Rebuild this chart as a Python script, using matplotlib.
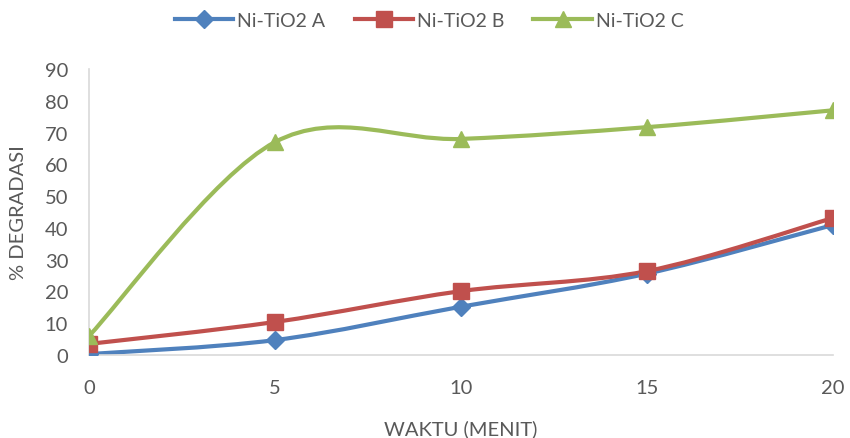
import numpy as np
import matplotlib.pyplot as plt
from matplotlib.path import Path
from matplotlib.patches import PathPatch

plt.rcParams['font.family'] = ['Lato', 'DejaVu Sans']

waktu = [0, 5, 10, 15, 20]
ni_a = [0.3, 4.7, 15.2, 25.6, 40.9]
ni_b = [3.5, 10.4, 20.1, 26.4, 43.1]
ni_c = [6.0, 67.0, 68.0, 71.7, 77.0]
labels = ['Ni-TiO2 A', 'Ni-TiO2 B', 'Ni-TiO2 C']
colors = ['#4F81BD', '#C0504D', '#9BBB59']
markers = ['D', 's', '^']
msizes = [9, 11, 12]


def smooth_path(x, y):
    # cubic bezier through the points, excel-style smoothing
    p = np.column_stack([x, y]).astype(float)
    p = np.vstack([p[0], p, p[-1]])
    verts = [tuple(p[1])]
    codes = [Path.MOVETO]
    for i in range(1, len(p) - 2):
        c1 = p[i] + (p[i + 1] - p[i - 1]) / 6
        c2 = p[i + 1] - (p[i + 2] - p[i]) / 6
        verts += [tuple(c1), tuple(c2), tuple(p[i + 1])]
        codes += [Path.CURVE4] * 3
    return Path(verts, codes)


fig = plt.figure(figsize=(8.5, 4.39), dpi=100)
ax = fig.add_axes([0.1047, 0.189, 0.875, 0.6515])

for ys, lab, col, mk, ms in zip([ni_a, ni_b, ni_c], labels, colors, markers, msizes):
    ax.add_patch(PathPatch(smooth_path(waktu, ys), fill=False, edgecolor=col,
                           lw=3, capstyle='round', zorder=2))
    ax.plot(waktu, ys, linestyle='none', marker=mk, markersize=ms, color=col, zorder=3)
    ax.plot([], [], color=col, lw=3, marker=mk, markersize=ms, label=lab)

ax.set_xlim(0, 20)
ax.set_ylim(0, 90)
ax.set_xticks(waktu)
ax.set_yticks(range(0, 91, 10))
ax.tick_params(length=0, labelsize=14.5, labelcolor='#595959')
ax.tick_params(axis='x', pad=17)
ax.tick_params(axis='y', pad=15)
for s in ['top', 'right']:
    ax.spines[s].set_visible(False)
for s in ['left', 'bottom']:
    ax.spines[s].set_color('#D9D9D9')
    ax.spines[s].set_linewidth(1.2)

ax.set_xlabel('WAKTU (MENIT)', fontsize=14.5, color='#595959', labelpad=17)
ax.set_ylabel('% DEGRADASI', fontsize=14.5, color='#595959', labelpad=13)

fig.legend(loc='upper center', bbox_to_anchor=(0.505, 1.01), ncol=3, frameon=False,
           fontsize=14, labelcolor='#595959', handlelength=3, columnspacing=1.5,
           handletextpad=0.2)

fig.savefig('out.png', dpi=100)
